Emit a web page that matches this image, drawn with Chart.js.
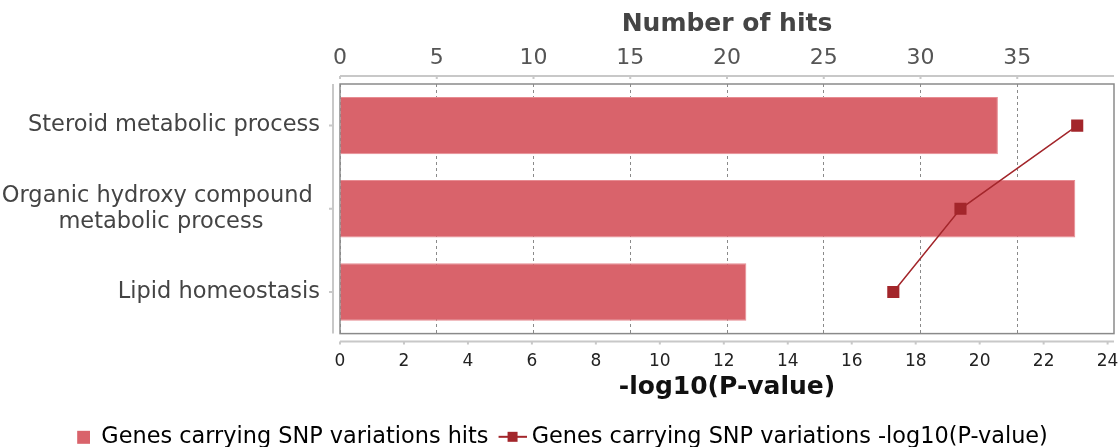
<!DOCTYPE html>
<html>
<head>
<meta charset="utf-8">
<script src="https://cdn.jsdelivr.net/npm/chart.js@4/dist/chart.umd.min.js"></script>
<style>
  html, body { margin: 0; padding: 0; background: #fff; }
  #wrap { width: 1118px; height: 447px; position: relative; }
</style>
</head>
<body>
<div id="wrap"><canvas id="hitsChart"></canvas></div>
<script>
// Chart data
const categories = [
  ['Steroid metabolic process'],
  ['Organic hydroxy compound ', 'metabolic process'],
  ['Lipid homeostasis']
];
const hitCounts = [34, 38, 21];
const pValues = [23.05, 19.4, 17.3];

const hitsLabel = 'Genes carrying SNP variations hits';
const pLabel = 'Genes carrying SNP variations -log10(P-value)';

const barColor = '#d9636b';
const lineColor = '#a3262b';
const fontFamily = "'DejaVu Sans', sans-serif";

Chart.defaults.font.family = fontFamily;

// Legend icons drawn on small canvases
function makeIcon(w, drawFn) {
  const c = document.createElement('canvas');
  c.width = w;
  c.height = 16;
  drawFn(c.getContext('2d'));
  return c;
}
const barIcon = makeIcon(24, ctx => {
  ctx.fillStyle = barColor;
  ctx.fillRect(11, 2, 13, 13);
});
const lineIcon = makeIcon(36, ctx => {
  ctx.strokeStyle = lineColor;
  ctx.lineWidth = 2;
  ctx.beginPath();
  ctx.moveTo(8, 8);
  ctx.lineTo(36, 8);
  ctx.stroke();
  ctx.fillStyle = lineColor;
  ctx.fillRect(17, 3, 10, 10);
});

// Frame around the plot, detached axis lines and the category labels
const framePlugin = {
  id: 'frame',
  beforeDatasetsDraw(chart) {
    const { ctx, chartArea: a } = chart;
    ctx.save();
    ctx.strokeStyle = '#8a8a8a';
    ctx.lineWidth = 1.5;
    ctx.strokeRect(a.left, a.top, a.right - a.left, a.bottom - a.top);
    ctx.restore();
  },
  afterDraw(chart) {
    const { ctx, chartArea: a, scales } = chart;
    ctx.save();
    ctx.strokeStyle = '#c8c8c8';
    ctx.lineWidth = 2;
    ctx.beginPath();
    // top axis
    const ty = a.top - 8;
    ctx.moveTo(a.left, ty);
    ctx.lineTo(a.right, ty);
    scales.x.ticks.forEach(t => {
      const px = scales.x.getPixelForValue(t.value);
      ctx.moveTo(px, ty);
      ctx.lineTo(px, ty + 3);
    });
    // bottom axis
    const by = a.bottom + 8;
    ctx.moveTo(a.left, by);
    ctx.lineTo(a.right, by);
    scales.x2.ticks.forEach(t => {
      const px = scales.x2.getPixelForValue(t.value);
      ctx.moveTo(px, by);
      ctx.lineTo(px, by + 3);
    });
    // left axis
    const lx = a.left - 7;
    ctx.moveTo(lx, a.top);
    ctx.lineTo(lx, a.bottom);
    categories.forEach((c, i) => {
      const py = scales.y.getPixelForValue(i);
      ctx.moveTo(lx, py);
      ctx.lineTo(lx - 4, py);
    });
    ctx.stroke();

    // category labels: block right aligned, lines centred inside it
    ctx.font = '22.5px ' + fontFamily;
    ctx.fillStyle = '#444';
    ctx.textAlign = 'center';
    ctx.textBaseline = 'middle';
    const lineH = 26;
    categories.forEach((lines, i) => {
      const py = scales.y.getPixelForValue(i);
      const w = Math.max(...lines.map(l => ctx.measureText(l).width));
      const cx = a.left - 20 - w / 2;
      lines.forEach((l, j) => {
        ctx.fillText(l, cx, py + (j - (lines.length - 1) / 2) * lineH);
      });
    });
    ctx.restore();
  }
};

function noSidePadding(scale) {
  scale.paddingLeft = 0;
  scale.paddingRight = 0;
}

const ctx = document.getElementById('hitsChart').getContext('2d');
const hitsChart = new Chart(ctx, {
  data: {
    labels: categories.map(c => c.join(' ')),
    datasets: [{
      type: 'bar',
      label: hitsLabel,
      data: hitCounts,
      backgroundColor: barColor,
      borderColor: 'rgba(231, 140, 146, 1)',
      borderWidth: 1,
      xAxisID: 'x',
      yAxisID: 'y',
      barPercentage: 0.69,
      categoryPercentage: 1,
      order: 1
    }, {
      type: 'line',
      label: pLabel,
      data: pValues,
      indexAxis: 'y',
      borderColor: lineColor,
      borderWidth: 1.5,
      pointStyle: 'rect',
      pointRadius: 7.5,
      pointBackgroundColor: lineColor,
      pointBorderColor: lineColor,
      xAxisID: 'x2',
      yAxisID: 'y',
      order: 0
    }]
  },
  options: {
    indexAxis: 'y',
    responsive: true,
    maintainAspectRatio: false,
    animation: false,
    layout: {
      autoPadding: false,
      padding: { top: 0, right: 4, bottom: -11, left: 0 }
    },
    plugins: {
      tooltip: { enabled: false },
      legend: {
        position: 'bottom',
        labels: {
          usePointStyle: true,
          pointStyleWidth: 24,
          boxHeight: 16,
          padding: 8,
          color: '#444',
          font: { size: 22.4 },
          generateLabels: () => [
            { text: hitsLabel, pointStyle: barIcon, fillStyle: barColor, strokeStyle: barColor, lineWidth: 0, datasetIndex: 0 },
            { text: pLabel, pointStyle: lineIcon, fillStyle: lineColor, strokeStyle: lineColor, lineWidth: 0, datasetIndex: 1 }
          ]
        }
      }
    },
    scales: {
      x: {
        position: 'top',
        min: 0,
        max: 40,
        afterBuildTicks: scale => { scale.ticks = scale.ticks.filter(t => t.value < 40); },
        afterFit: scale => { scale.height = 84; noSidePadding(scale); },
        ticks: { stepSize: 5, color: '#555', font: { size: 22 }, padding: 13 },
        grid: { color: '#8a8a8a', drawTicks: false, lineWidth: 1 },
        border: { display: false, dash: [3, 3] },
        title: {
          display: true,
          text: 'Number of hits',
          color: '#444',
          font: { size: 25, weight: 'bold' },
          padding: { top: 9, bottom: 0 }
        }
      },
      x2: {
        position: 'bottom',
        min: 0,
        max: 24.2,
        afterFit: scale => { scale.height = 84; noSidePadding(scale); },
        ticks: { stepSize: 2, includeBounds: false, color: '#222', font: { size: 17 }, padding: 18 },
        grid: { display: false, drawTicks: false },
        border: { display: false },
        title: {
          display: true,
          text: '-log10(P-value)',
          color: '#111',
          font: { size: 25, weight: 'bold' },
          padding: { top: 0, bottom: 15 }
        }
      },
      y: {
        type: 'category',
        afterFit: scale => { scale.width = 340; scale.paddingTop = 0; scale.paddingBottom = 0; },
        ticks: { display: false },
        grid: { display: false, drawTicks: false },
        border: { display: false }
      }
    }
  },
  plugins: [framePlugin]
});
</script>
</body>
</html>
